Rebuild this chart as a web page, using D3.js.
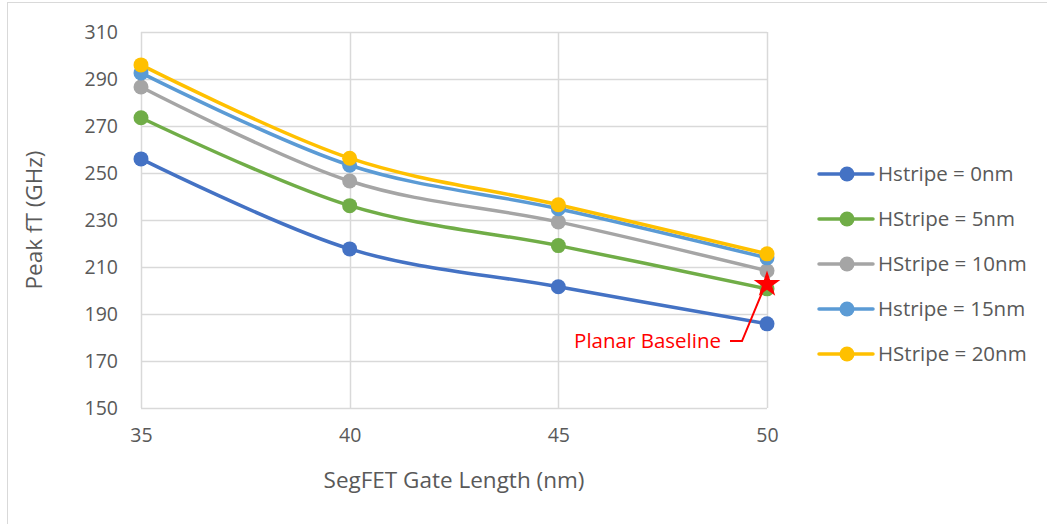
<!DOCTYPE html>
<html>
<head>
<meta charset="utf-8">
<script src="https://cdn.jsdelivr.net/npm/d3@7"></script>
<style>
  body { margin: 0; background: #fff; }
  text { font-family: "Open Sans", "Noto Sans", sans-serif; fill: #595959; }
</style>
</head>
<body>
<script>
const gateLengths = [35, 40, 45, 50];
const seriesNames = ['Hstripe = 0nm', 'HStripe = 5nm', 'HStripe = 10nm', 'Hstripe = 15nm', 'HStripe = 20nm'];
const hs0 = [256, 217.7, 201.6, 185.8];
const hs5 = [273.5, 236.1, 219.1, 200.7];
const hs10 = [286.6, 246.6, 229.2, 208.4];
const hs15 = [292.6, 253.3, 234.8, 213.9];
const hs20 = [296, 256.3, 236.5, 215.6];
const seriesColors = ['#4472C4', '#70AD47', '#A5A5A5', '#5B9BD5', '#FFC000'];
const yTicks = [150, 170, 190, 210, 230, 250, 270, 290, 310];
const baseline = { x: 50, y: 202.6, label: 'Planar Baseline', labelY: 178.5 };

const width = 1047;
const height = 524;
const margin = { top: 32, right: 280, bottom: 116, left: 141 };

const series = [hs0, hs5, hs10, hs15, hs20].map((vals, i) => ({
    name: seriesNames[i],
    color: seriesColors[i],
    values: vals.map((v, j) => ({ x: gateLengths[j], y: v }))
}));

const svg = d3.select('body')
    .append('svg')
    .attr('width', width)
    .attr('height', height);

// chart border (only left/top visible in frame)
svg.append('rect')
    .attr('x', 7.5)
    .attr('y', 2.5)
    .attr('width', width + 20)
    .attr('height', height + 20)
    .attr('fill', 'none')
    .attr('stroke', '#d9d9d9');

const x = d3.scaleLinear()
    .domain([35, 50])
    .range([margin.left, width - margin.right]);

const y = d3.scaleLinear()
    .domain([150, 310])
    .range([height - margin.bottom, margin.top]);

// gridlines
svg.append('g')
    .selectAll('line')
    .data(yTicks)
    .join('line')
    .attr('x1', x(35))
    .attr('x2', x(50))
    .attr('y1', d => Math.round(y(d)) + 0.5)
    .attr('y2', d => Math.round(y(d)) + 0.5)
    .attr('stroke', '#d9d9d9')
    .attr('stroke-width', 1.5);

svg.append('g')
    .selectAll('line')
    .data(gateLengths)
    .join('line')
    .attr('x1', d => Math.round(x(d)) + 0.5)
    .attr('x2', d => Math.round(x(d)) + 0.5)
    .attr('y1', y(150))
    .attr('y2', y(310))
    .attr('stroke', '#d9d9d9')
    .attr('stroke-width', 1.5);

// axes (labels only, lines drawn by the grid)
const yAxis = svg.append('g')
    .attr('transform', `translate(${margin.left},0)`)
    .call(d3.axisLeft(y).tickValues(yTicks).tickSize(0).tickPadding(23));
yAxis.select('.domain').remove();
yAxis.selectAll('text')
    .style('font-size', '19.5px')
    .style('font-family', '"Open Sans", sans-serif')
    .attr('fill', '#595959');

const xAxis = svg.append('g')
    .attr('transform', `translate(0,${height - margin.bottom})`)
    .call(d3.axisBottom(x).tickValues(gateLengths).tickSize(0).tickPadding(20));
xAxis.select('.domain').remove();
xAxis.selectAll('text')
    .style('font-size', '19.5px')
    .style('font-family', '"Open Sans", sans-serif')
    .attr('fill', '#595959');

svg.append('text')
    .attr('x', (x(35) + x(50)) / 2)
    .attr('y', 488)
    .attr('text-anchor', 'middle')
    .style('font-size', '22.5px')
    .text('SegFET Gate Length (nm)');

svg.append('text')
    .attr('transform', `translate(42, ${(y(150) + y(310)) / 2}) rotate(-90)`)
    .attr('text-anchor', 'middle')
    .style('font-size', '22.5px')
    .text('Peak fT (GHz)');

// lines
const line = d3.line()
    .x(d => x(d.x))
    .y(d => y(d.y))
    .curve(d3.curveCardinal.tension(0));

const plot = svg.append('g');

series.forEach(s => {
    plot.append('path')
        .datum(s.values)
        .attr('d', line)
        .attr('fill', 'none')
        .attr('stroke', s.color)
        .attr('stroke-width', 3.5)
        .attr('stroke-linecap', 'round');
});

series.forEach(s => {
    plot.selectAll(null)
        .data(s.values)
        .join('circle')
        .attr('cx', d => x(d.x))
        .attr('cy', d => y(d.y))
        .attr('r', 7.5)
        .attr('fill', s.color);
});

// planar baseline marker + callout
const bx = x(baseline.x);
const by = y(baseline.y);
const ly = y(baseline.labelY);

svg.append('path')
    .attr('d', `M${bx - 37},${ly} L${bx - 25},${ly} L${bx - 4},${by + 6}`)
    .attr('fill', 'none')
    .attr('stroke', '#ff0000')
    .attr('stroke-width', 2);

svg.append('path')
    .attr('transform', `translate(${bx},${by})`)
    .attr('d', d3.symbol().type(d3.symbolStar).size(220))
    .attr('fill', '#ff0000');

svg.append('text')
    .attr('x', bx - 46)
    .attr('y', ly + 7)
    .attr('text-anchor', 'end')
    .style('font-size', '20.5px')
    .style('fill', '#ff0000')
    .text(baseline.label);

// legend
const legend = svg.append('g')
    .attr('transform', 'translate(819, 174)');

const item = legend.selectAll('g')
    .data(series)
    .join('g')
    .attr('transform', (d, i) => `translate(0, ${i * 45})`);

item.append('line')
    .attr('x1', 0)
    .attr('x2', 54)
    .attr('stroke', d => d.color)
    .attr('stroke-width', 3.5)
    .attr('stroke-linecap', 'round');

item.append('circle')
    .attr('cx', 28)
    .attr('r', 7.5)
    .attr('fill', d => d.color);

item.append('text')
    .attr('x', 59)
    .attr('y', 7)
    .style('font-size', '20.5px')
    .text(d => d.name);
</script>
</body>
</html>
